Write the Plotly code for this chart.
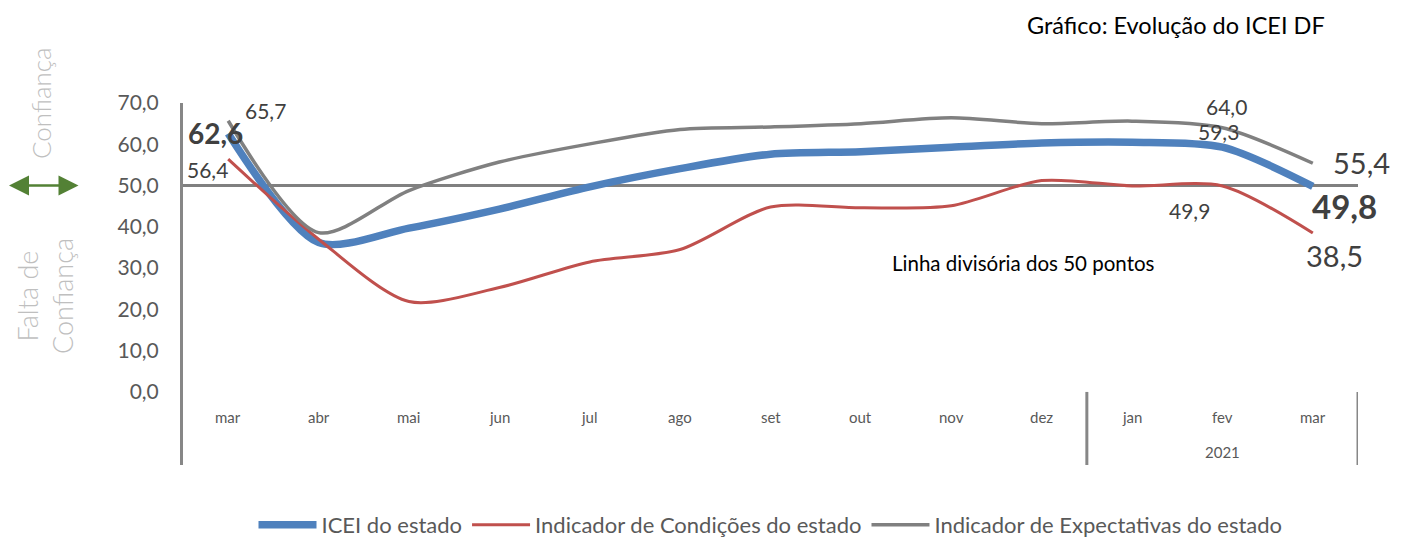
import plotly.graph_objects as go

months = ["mar", "abr", "mai", "jun", "jul", "ago", "set", "out", "nov", "dez", "jan", "fev", "mar"]
year_label = "2021"
icei = [62.6, 36.2, 39.7, 44.3, 49.7, 54.1, 57.6, 58.2, 59.3, 60.3, 60.5, 59.3, 49.8]
condicoes = [56.4, 37.0, 21.9, 25.3, 31.5, 34.5, 44.8, 44.6, 45.1, 51.2, 49.9, 49.9, 38.5]
expectativas = [65.7, 38.6, 48.8, 55.7, 60.1, 63.6, 64.2, 65.0, 66.4, 65.0, 65.6, 64.0, 55.4]
ytick_vals = [0, 10, 20, 30, 40, 50, 60, 70]
ytick_text = ["0,0", "10,0", "20,0", "30,0", "40,0", "50,0", "60,0", "70,0"]

x = list(range(len(months)))
FONT = "Lato"
GREY_TXT = "#595959"

# plot box in pixels
L, R, T, B = 183, 1358, 103, 465
PW, PH = R - L, B - T


def px_x(p):
    return (p - L) / PW


def px_y(p):
    return (B - p) / PH


fig = go.Figure()
fig.add_trace(go.Scatter(x=x, y=icei, mode="lines", name="ICEI do estado",
                         line=dict(color="#4F81BD", width=7.5, shape="spline", smoothing=0.8)))
fig.add_trace(go.Scatter(x=x, y=condicoes, mode="lines", name="Indicador de Condições do estado",
                         line=dict(color="#C0504D", width=3, shape="spline", smoothing=0.8)))
fig.add_trace(go.Scatter(x=x, y=expectativas, mode="lines", name="Indicador de Expectativas do estado",
                         line=dict(color="#808080", width=3.5, shape="spline", smoothing=0.8)))

shapes = [
    dict(type="line", xref="x", yref="y", x0=-0.5, x1=12.5, y0=50, y1=50,
         line=dict(color="#808080", width=3), layer="below"),
    dict(type="line", xref="x", yref="y", x0=9.5, x1=9.5, y0=0, y1=-17.7,
         line=dict(color="#878787", width=3)),
    dict(type="line", xref="x", yref="y", x0=12.5, x1=12.5, y0=0, y1=-17.7,
         line=dict(color="#878787", width=3)),
]

ann = []
for i, m in enumerate(months):
    ann.append(dict(x=i, y=-6.05, xref="x", yref="y", text=m, showarrow=False,
                    xanchor="center", yanchor="middle",
                    font=dict(family=FONT, size=15, color=GREY_TXT)))
ann.append(dict(x=11, y=-14.5, xref="x", yref="y", text=year_label, showarrow=False,
                xanchor="center", yanchor="middle",
                font=dict(family=FONT, size=15, color=GREY_TXT)))


def lab(xi, yi, txt, dx, dy, size, bold=False):
    ann.append(dict(x=xi, y=yi, xref="x", yref="y", text=("<b>%s</b>" % txt) if bold else txt,
                    showarrow=False, xshift=dx, yshift=dy, xanchor="center", yanchor="middle",
                    font=dict(family=FONT, size=size, color="#404040")))


lab(0, icei[0], "62,6", -13, 1, 28, True)
lab(0, expectativas[0], "65,7", 37, 10, 21)
lab(0, condicoes[0], "56,4", -21, -10, 21)
lab(11, expectativas[11], "64,0", 4, 21, 21)
lab(11, icei[11], "59,3", -4, 16, 21)
lab(11, condicoes[11], "49,9", -33, -25, 21)
lab(12, expectativas[12], "55,4", 49, 1, 29)
lab(12, icei[12], "49,8", 32, -20, 33, True)
lab(12, condicoes[12], "38,5", 22, -22, 29)

ann.append(dict(x=8.8, y=(392 - 263) / 4.13, xref="x", yref="y", text="Linha divisória dos 50 pontos",
                showarrow=False, xanchor="center", yanchor="middle",
                font=dict(family=FONT, size=20.5, color="#000000")))

# title
ann.append(dict(x=px_x(1176), y=px_y(25), xref="paper", yref="paper",
                xanchor="center", yanchor="middle",
                text="Gráfico: Evolução do ICEI DF", showarrow=False,
                font=dict(family=FONT, size=23.5, color="#000000")))
# left side labels
ann.append(dict(x=px_x(41), y=px_y(103), xref="paper", yref="paper",
                xanchor="center", yanchor="middle",
                text="Confiança", textangle=-90, showarrow=False,
                font=dict(family=FONT, size=26, color="#BFBFBF", weight=300)))
ann.append(dict(x=px_x(45), y=px_y(296), xref="paper", yref="paper",
                xanchor="center", yanchor="middle",
                text="Falta de<br>Confiança", textangle=-90, showarrow=False,
                font=dict(family=FONT, size=27, color="#BFBFBF", weight=300)))
# green double arrow
ann.append(dict(x=px_x(9), y=50, xref="paper", yref="y", ax=71, ay=0,
                text="", showarrow=True, arrowside="end+start", arrowhead=2,
                arrowsize=1.6, arrowwidth=2.5, arrowcolor="#538135"))

fig.update_layout(
    width=1404, height=537,
    margin=dict(l=L, r=1404 - R, t=T, b=537 - B, autoexpand=False),
    paper_bgcolor="white", plot_bgcolor="white",
    showlegend=True,
    legend=dict(orientation="h", x=0.5, xanchor="center", yref="container",
                y=(537 - 525) / 537, yanchor="middle", itemwidth=58,
                font=dict(family=FONT, size=22, color=GREY_TXT)),
    xaxis=dict(range=[-0.5, 12.5], showgrid=False, zeroline=False, showticklabels=False,
               showline=False, fixedrange=True),
    yaxis=dict(range=[-17.7, 70], tickvals=ytick_vals, ticktext=ytick_text, showgrid=False,
               zeroline=False, showline=True, linecolor="#878787", linewidth=3,
               ticklabelstandoff=17, automargin=False, fixedrange=True,
               tickfont=dict(family=FONT, size=21, color=GREY_TXT)),
    shapes=shapes, annotations=ann,
)

fig.write_html("out.html", config={"displayModeBar": False},
               post_script="document.body.style.margin='0px';")
